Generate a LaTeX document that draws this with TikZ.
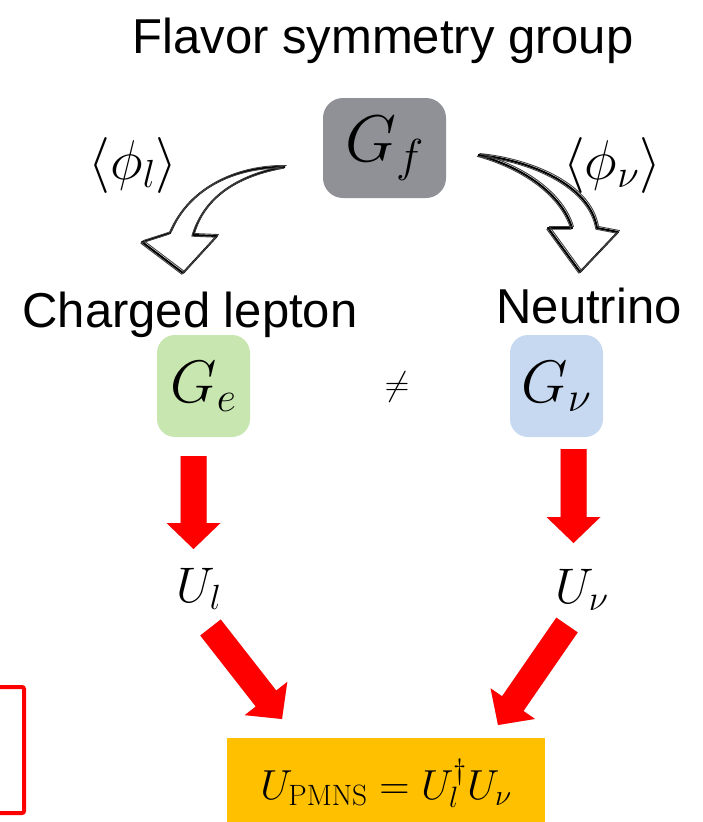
\RequirePackage{fix-cm}
\documentclass[tikz,border=0pt]{standalone}
\usepackage[no-math]{fontspec}
\setmainfont{Liberation Sans}
\usetikzlibrary{calc}
\definecolor{gfgray}{RGB}{143,145,150}
\definecolor{gegreen}{RGB}{200,230,175}
\definecolor{gnblue}{RGB}{198,217,240}
\definecolor{pmnsyellow}{RGB}{255,192,0}
\newcommand{\redarrow}[3]{%
  \coordinate (#1base) at ($(#3)!26pt!(#2)$);
  \foreach \s/\o in {4/0.06,3/0.08,2/0.1}{%
    \fill[black,opacity=\o,shift={(\s,\s)}] ($(#2)!13pt!90:(#3)$) -- ($(#1base)!13pt!90:(#3)$) -- ($(#1base)!27pt!90:(#3)$) -- (#3) -- ($(#1base)!27pt!-90:(#3)$) -- ($(#1base)!13pt!-90:(#3)$) -- ($(#2)!13pt!-90:(#3)$) -- cycle;}
  \fill[red] ($(#2)!13pt!90:(#3)$) -- ($(#1base)!13pt!90:(#3)$) -- ($(#1base)!27pt!90:(#3)$) -- (#3) -- ($(#1base)!27pt!-90:(#3)$) -- ($(#1base)!13pt!-90:(#3)$) -- ($(#2)!13pt!-90:(#3)$) -- cycle;}
\begin{document}
\begin{tikzpicture}[x=1pt,y=-1pt,
  label text/.style={font=\fontsize{49}{58}\selectfont, inner sep=0pt, anchor=base},
  gbox/.style={rounded corners=18pt, minimum width=93pt, minimum height=102pt, inner sep=0pt, font=\fontsize{60}{60}\selectfont},
  mathlab/.style={inner sep=0pt, font=\fontsize{56}{56}\selectfont},
  sketch/.style={line width=2pt, line join=round, black},
  sketchb/.style={line width=0.9pt, line join=round, black!75}]
\useasboundingbox (0,0) rectangle (703,822);

\node[label text] (title) at (383,53) {Flavor symmetry group};

\node[gbox, fill=gfgray, minimum width=123pt, minimum height=100pt, rounded corners=20pt,
      font=\fontsize{66}{66}\selectfont] (Gf) at (384.5,148) {$G_f$};

\node[mathlab] (phil) at (133,165) {$\langle\phi_l\rangle$};
\node[mathlab] (phin) at (612,165) {$\langle\phi_\nu\rangle$};

% hollow sketchy arrows
\foreach \st/\dx/\dy in {sketch/0/0, sketchb/1.5/-1.5, sketchb/-1.2/1.2}{
  \draw[\st, shift={(\dx,\dy)}] (285,167) .. controls (240,166) and (190,185) .. (170,233)
     -- (142,242) -- (183,273) -- (217,236) -- (193,235)
     .. controls (205,195) and (240,175) .. (285,167);
  \draw[\st, shift={(\dx,\dy)}] (478,155) .. controls (530,160) and (590,185) .. (597,228)
     -- (618,232) -- (580,272) -- (548,228) -- (572,228)
     .. controls (562,195) and (525,168) .. (478,155);
}

\node[label text] (cl) at (190,327) {Charged lepton};
\node[label text] (neu) at (589,323) {Neutrino};

\node[gbox, fill=gegreen] (Ge) at (203.5,386) {$G_e$};
\node[gbox, fill=gnblue] (Gn) at (556.5,386) {$G_\nu$};
\node[mathlab, font=\fontsize{34}{34}\selectfont] (neq) at (397,387) {$\neq$};

\coordinate (aLt) at (193.5,456);
\coordinate (aLh) at (193.5,549);
\coordinate (aRt) at (573.5,449);
\coordinate (aRh) at (573.5,543);
\redarrow{aL}{aLt}{aLh}
\redarrow{aR}{aRt}{aRh}

\node[mathlab, font=\fontsize{50}{50}\selectfont] (Ul) at (199,589) {$U_l$};
\node[mathlab, font=\fontsize{50}{50}\selectfont] (Un) at (582,590) {$U_\nu$};

\coordinate (dLt) at (210.5,627.5);
\coordinate (dLh) at (282,719);
\coordinate (dRt) at (567,625);
\coordinate (dRh) at (498,725);
\redarrow{dL}{dLt}{dLh}
\redarrow{dR}{dRt}{dRh}

\node[fill=pmnsyellow, minimum width=318pt, minimum height=90pt, inner sep=0pt,
      font=\fontsize{42}{42}\selectfont] (pmns) at (386,783) {$U_{\mathrm{PMNS}}=U_l^{\dagger}U_\nu$};

\draw[red, line width=4pt, rounded corners=2pt] (-30,687) rectangle (24,813);
\end{tikzpicture}
\end{document}
